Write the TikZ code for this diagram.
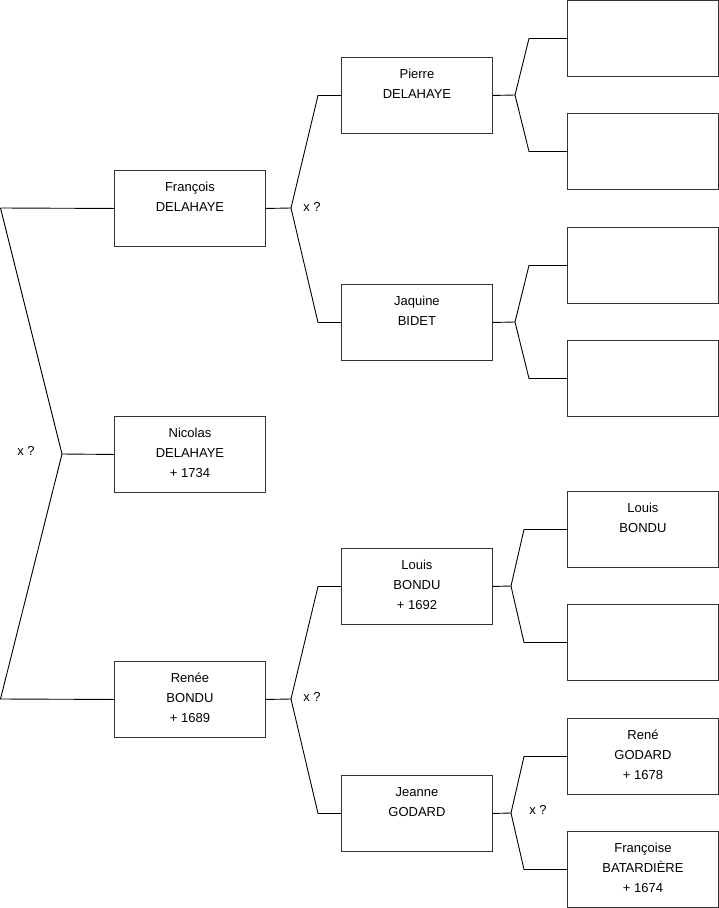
\documentclass[tikz,border=0pt]{standalone}
\usepackage{fontspec}
\setmainfont{Liberation Sans}
\newcommand{\fiche}[1]{\parbox[c][76pt][t]{151pt}{\centering\fontsize{13pt}{20pt}\selectfont\rule{0pt}{21pt}#1}}
\tikzset{
  fiche/.style={draw=black!80, line width=0.9pt, inner sep=0pt, anchor=north west},
  lien/.style={draw=black, line width=0.9pt},
  mariage/.style={font=\fontsize{13pt}{15pt}\selectfont, inner sep=0pt}
}
\begin{document}
\begin{tikzpicture}[x=1pt,y=-1pt]
        \useasboundingbox (0,0) rectangle (719,908);
        % generation 1
        \node[fiche] (francois) at (114,170) {\fiche{François\\DELAHAYE}};
        \node[fiche] (nicolas) at (114,416) {\fiche{Nicolas\\DELAHAYE\\+ 1734}};
        \node[fiche] (renee) at (114,661) {\fiche{Renée\\BONDU\\+ 1689}};
        % generation 2
        \node[fiche] (pierre) at (341,57) {\fiche{Pierre\\DELAHAYE}};
        \node[fiche] (jaquine) at (341,284) {\fiche{Jaquine\\BIDET}};
        \node[fiche] (louis) at (341,548) {\fiche{Louis\\BONDU\\+ 1692}};
        \node[fiche] (jeanne) at (341,775) {\fiche{Jeanne\\GODARD}};
        % generation 3
        \node[fiche] (vide1) at (567,0) {\fiche{}};
        \node[fiche] (vide2) at (567,113) {\fiche{}};
        \node[fiche] (vide3) at (567,227) {\fiche{}};
        \node[fiche] (vide4) at (567,340) {\fiche{}};
        \node[fiche] (louisB) at (567,491) {\fiche{Louis\\BONDU}};
        \node[fiche] (vide5) at (567,604) {\fiche{}};
        \node[fiche] (rene) at (567,718) {\fiche{René\\GODARD\\+ 1678}};
        \node[fiche] (francoise) at (567,831) {\fiche{Françoise\\BATARDIÈRE\\+ 1674}};
        % forks
        \coordinate (pereN) at (0.5,208);
        \coordinate (mereN) at (0.5,699);
        \coordinate (coupleN) at (62,454);
        \coordinate (coupleF) at (291,208);
        \coordinate (coupleR) at (291,699);
        \coordinate (coupleP) at (515,95);
        \coordinate (coupleJ) at (515,322);
        \coordinate (coupleL) at (511,586);
        \coordinate (coupleG) at (511,813);
        \draw[lien] (pereN) -- (francois.west);
        \draw[lien] (pereN) -- (coupleN) -- (mereN) -- (renee.west);
        \draw[lien] (coupleN) -- (nicolas.west);
        \draw[lien] (francois.east) -- (coupleF);
        \draw[lien] (pierre.west) -- ([xshift=-23pt]pierre.west) -- (coupleF) -- ([xshift=-23pt]jaquine.west) -- (jaquine.west);
        \draw[lien] (renee.east) -- (coupleR);
        \draw[lien] (louis.west) -- ([xshift=-23pt]louis.west) -- (coupleR) -- ([xshift=-23pt]jeanne.west) -- (jeanne.west);
        \draw[lien] (pierre.east) -- (coupleP);
        \draw[lien] (vide1.west) -- ([xshift=-38pt]vide1.west) -- (coupleP) -- ([xshift=-38pt]vide2.west) -- (vide2.west);
        \draw[lien] (jaquine.east) -- (coupleJ);
        \draw[lien] (vide3.west) -- ([xshift=-38pt]vide3.west) -- (coupleJ) -- ([xshift=-38pt]vide4.west) -- (vide4.west);
        \draw[lien] (louis.east) -- (coupleL);
        \draw[lien] (louisB.west) -- ([xshift=-43pt]louisB.west) -- (coupleL) -- ([xshift=-43pt]vide5.west) -- (vide5.west);
        \draw[lien] (jeanne.east) -- (coupleG);
        \draw[lien] (rene.west) -- ([xshift=-43pt]rene.west) -- (coupleG) -- ([xshift=-43pt]francoise.west) -- (francoise.west);
        % marriages
        \node[mariage] (xN) at (26,451) {x ?};
        \node[mariage] (xF) at (312,207) {x ?};
        \node[mariage] (xR) at (312,697) {x ?};
        \node[mariage] (xG) at (538,810) {x ?};
    \end{tikzpicture}
\end{document}
